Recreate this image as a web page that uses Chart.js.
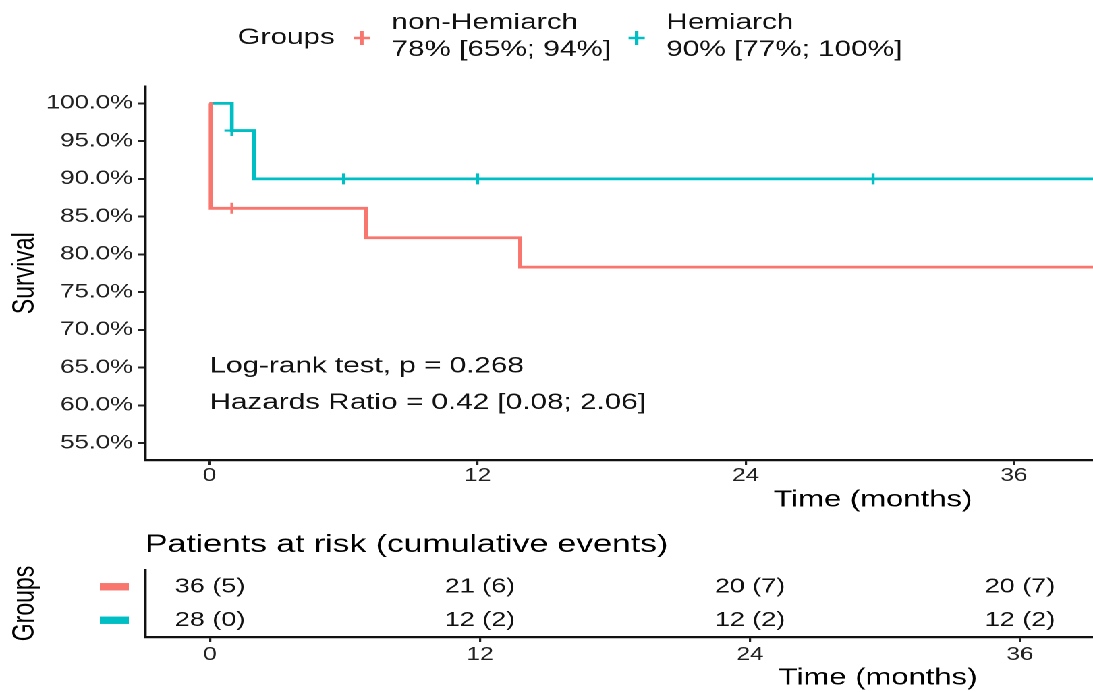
<!DOCTYPE html>
<html>
<head>
<meta charset="utf-8">
<script src="https://cdn.jsdelivr.net/npm/chart.js@4.4.0/dist/chart.umd.min.js"></script>
<style>
  html, body { margin: 0; padding: 0; width: 1093px; height: 692px; overflow: hidden; background: #fff; }
  /* the reference figure is stretched horizontally, so is this one */
  #wrap { position: absolute; left: 0; top: 0; width: 1194px; height: 700px; transform: scaleX(1.3494); transform-origin: 0 0; }
  #km { position: absolute; left: 0; top: 0; }
  #risk { position: absolute; left: 0; top: 530px; }
</style>
</head>
<body>
<div id="wrap">
  <canvas id="km" width="1194" height="530"></canvas>
  <canvas id="risk" width="1194" height="170"></canvas>
</div>
<script>
const groups = ['non-Hemiarch', 'Hemiarch'];
const groupSummary = ['78% [65%; 94%]', '90% [77%; 100%]'];
const groupColors = ['#F8766D', '#00BFC4'];

// Kaplan-Meier steps: time (months) and survival (%)
const timeNonHemi = [0, 0.05, 7.0, 13.9, 40];
const survNonHemi = [100, 86.1, 82.2, 78.3, 78.3];
const timeHemi = [0, 1.0, 2.0, 40];
const survHemi = [100, 96.4, 90.0, 90.0];

// censored patients
const censTimeNonHemi = [1.0];
const censSurvNonHemi = [86.1];
const censTimeHemi = [1.0, 6.0, 12.0, 29.7];
const censSurvHemi = [96.4, 90.0, 90.0, 90.0];

const timeTicks = [0, 12, 24, 36];
const survTicks = [55, 60, 65, 70, 75, 80, 85, 90, 95, 100];

// patients at risk (cumulative events)
const riskNonHemi = [36, 21, 20, 20];
const eventsNonHemi = [5, 6, 7, 7];
const riskHemi = [28, 12, 12, 12];
const eventsHemi = [0, 2, 2, 2];

const statLines = ['Log-rank test, p = 0.268', 'Hazards Ratio = 0.42 [0.08; 2.06]'];

const FONT = "'Liberation Sans', Arial, sans-serif";
Chart.defaults.font.family = FONT;
Chart.defaults.color = '#222';

const xMin = -2.885, xMax = 62.27;
const toXY = (ts, ss) => ts.map((t, i) => ({x: t, y: ss[i]}));
const setTicks = vals => scale => { scale.ticks = vals.map(v => ({value: v})); };

const kmDecor = {
  id: 'kmDecor',
  afterDraw(chart) {
    const ctx = chart.ctx;
    const {x, y} = chart.scales;
    ctx.save();
    ctx.font = '22px ' + FONT;
    ctx.fillStyle = '#111';
    ctx.textBaseline = 'middle';
    ctx.textAlign = 'left';
    // legend
    let lx = 176;
    ctx.fillText('Groups', lx, 38);
    lx += ctx.measureText('Groups').width + 20;
    groups.forEach((g, i) => {
      ctx.strokeStyle = groupColors[i];
      ctx.lineWidth = 2.6;
      ctx.beginPath();
      ctx.moveTo(lx - 6, 38); ctx.lineTo(lx + 6, 38);
      ctx.moveTo(lx, 31); ctx.lineTo(lx, 45);
      ctx.stroke();
      ctx.fillStyle = '#111';
      ctx.fillText(g, lx + 22, 23);
      ctx.fillText(groupSummary[i], lx + 22, 50);
      const w = Math.max(ctx.measureText(g).width, ctx.measureText(groupSummary[i]).width);
      lx += 22 + w + 19;
    });
    // test results
    const sx = x.getPixelForValue(0);
    ctx.fillText(statLines[0], sx, y.getPixelForValue(65) - 1);
    ctx.fillText(statLines[1], sx, y.getPixelForValue(60) - 2.5);
    ctx.restore();
  }
};

const stepLine = (data, i) => ({
  label: groups[i], data: data, borderColor: groupColors[i], borderWidth: 2.8,
  stepped: true, pointRadius: 0, fill: false
});
const censorPts = (data, i) => ({
  label: groups[i] + ' censored', data: data, showLine: false,
  borderColor: groupColors[i], pointStyle: 'cross', pointRadius: 5.5,
  pointBorderColor: groupColors[i], pointBorderWidth: 2.2
});

new Chart(document.getElementById('km'), {
  type: 'line',
  data: {
    datasets: [
      stepLine(toXY(timeNonHemi, survNonHemi), 0),
      stepLine(toXY(timeHemi, survHemi), 1),
      censorPts(toXY(censTimeNonHemi, censSurvNonHemi), 0),
      censorPts(toXY(censTimeHemi, censSurvHemi), 1)
    ]
  },
  options: {
    responsive: false,
    animation: false,
    events: [],
    devicePixelRatio: 2,
    layout: { padding: { top: 86.4, left: 0, right: 0, bottom: 0 } },
    plugins: { legend: { display: false }, tooltip: { enabled: false } },
    scales: {
      x: {
        type: 'linear', min: xMin, max: xMax,
        afterBuildTicks: setTicks(timeTicks),
        afterFit: s => { s.height = 70; },
        ticks: { font: { size: 18, lineHeight: 1 }, padding: 2, color: '#222' },
        grid: { drawOnChartArea: false, tickLength: 5, color: '#222', lineWidth: 1.6 },
        border: { color: '#111', width: 2.2 },
        title: { display: true, text: 'Time (months)', color: '#000', font: { size: 23 }, padding: { top: 0, bottom: 16 } }
      },
      y: {
        type: 'linear', min: 52.75, max: 102.25,
        afterBuildTicks: setTicks(survTicks),
        afterFit: s => { s.width = 107.5; },
        ticks: { callback: v => v.toFixed(1) + '%', font: { size: 19 }, padding: 4, color: '#222' },
        grid: { drawOnChartArea: false, tickLength: 5, color: '#222', lineWidth: 2 },
        border: { color: '#111', width: 2.2 },
        title: { display: true, text: 'Survival', color: '#000', font: { size: 23 }, padding: { top: 5, bottom: 0 } }
      }
    }
  },
  plugins: [kmDecor]
});

const riskDecor = {
  id: 'riskDecor',
  afterDatasetsDraw(chart) {
    const ctx = chart.ctx;
    ctx.save();
    ctx.font = '20px ' + FONT;
    ctx.fillStyle = '#111';
    ctx.textAlign = 'center';
    ctx.textBaseline = 'middle';
    chart.data.datasets.forEach((ds, i) => {
      chart.getDatasetMeta(i).data.forEach((pt, j) => {
        ctx.fillText(ds.data[j].n + ' (' + ds.data[j].e + ')', pt.x, pt.y);
      });
    });
    // colour keys in place of the group names
    const ys = chart.scales.y;
    groups.forEach((g, i) => {
      ctx.fillStyle = groupColors[i];
      ctx.fillRect(74, ys.getPixelForValue(i) - 3.7, 21.5, 7.4);
    });
    ctx.restore();
  }
};

const riskRows = (counts, events, i) => ({
  label: groups[i],
  data: timeTicks.map((t, j) => ({ x: t, y: groups[i], n: counts[j], e: events[j] })),
  pointRadius: 0, showLine: false
});

new Chart(document.getElementById('risk'), {
  type: 'scatter',
  data: {
    datasets: [
      riskRows(riskNonHemi, eventsNonHemi, 0),
      riskRows(riskHemi, eventsHemi, 1)
    ]
  },
  options: {
    responsive: false,
    animation: false,
    events: [],
    devicePixelRatio: 2,
    layout: { padding: 0 },
    plugins: {
      legend: { display: false },
      tooltip: { enabled: false },
      title: {
        display: true, text: 'Patients at risk (cumulative events)', align: 'start', fullSize: false,
        color: '#000', font: { size: 25, weight: 'normal', lineHeight: 1.2 }, padding: { top: 0, bottom: 10 }
      }
    },
    scales: {
      x: {
        type: 'linear', min: xMin, max: xMax,
        afterBuildTicks: setTicks(timeTicks),
        afterFit: s => { s.height = 63; },
        ticks: { font: { size: 18, lineHeight: 1 }, padding: 4, color: '#222' },
        grid: { drawOnChartArea: false, tickLength: 5, color: '#222', lineWidth: 1.6 },
        border: { color: '#111', width: 2.2 },
        title: { display: true, text: 'Time (months)', color: '#000', font: { size: 23 }, padding: { top: 0, bottom: 8 } }
      },
      y: {
        type: 'category', labels: groups, offset: true,
        afterFit: s => { s.width = 107.5; },
        ticks: { display: false },
        grid: { display: false },
        border: { color: '#111', width: 2.2 },
        title: { display: true, text: 'Groups', color: '#000', font: { size: 23 }, padding: { top: 5, bottom: 0 } }
      }
    }
  },
  plugins: [riskDecor]
});
</script>
</body>
</html>
